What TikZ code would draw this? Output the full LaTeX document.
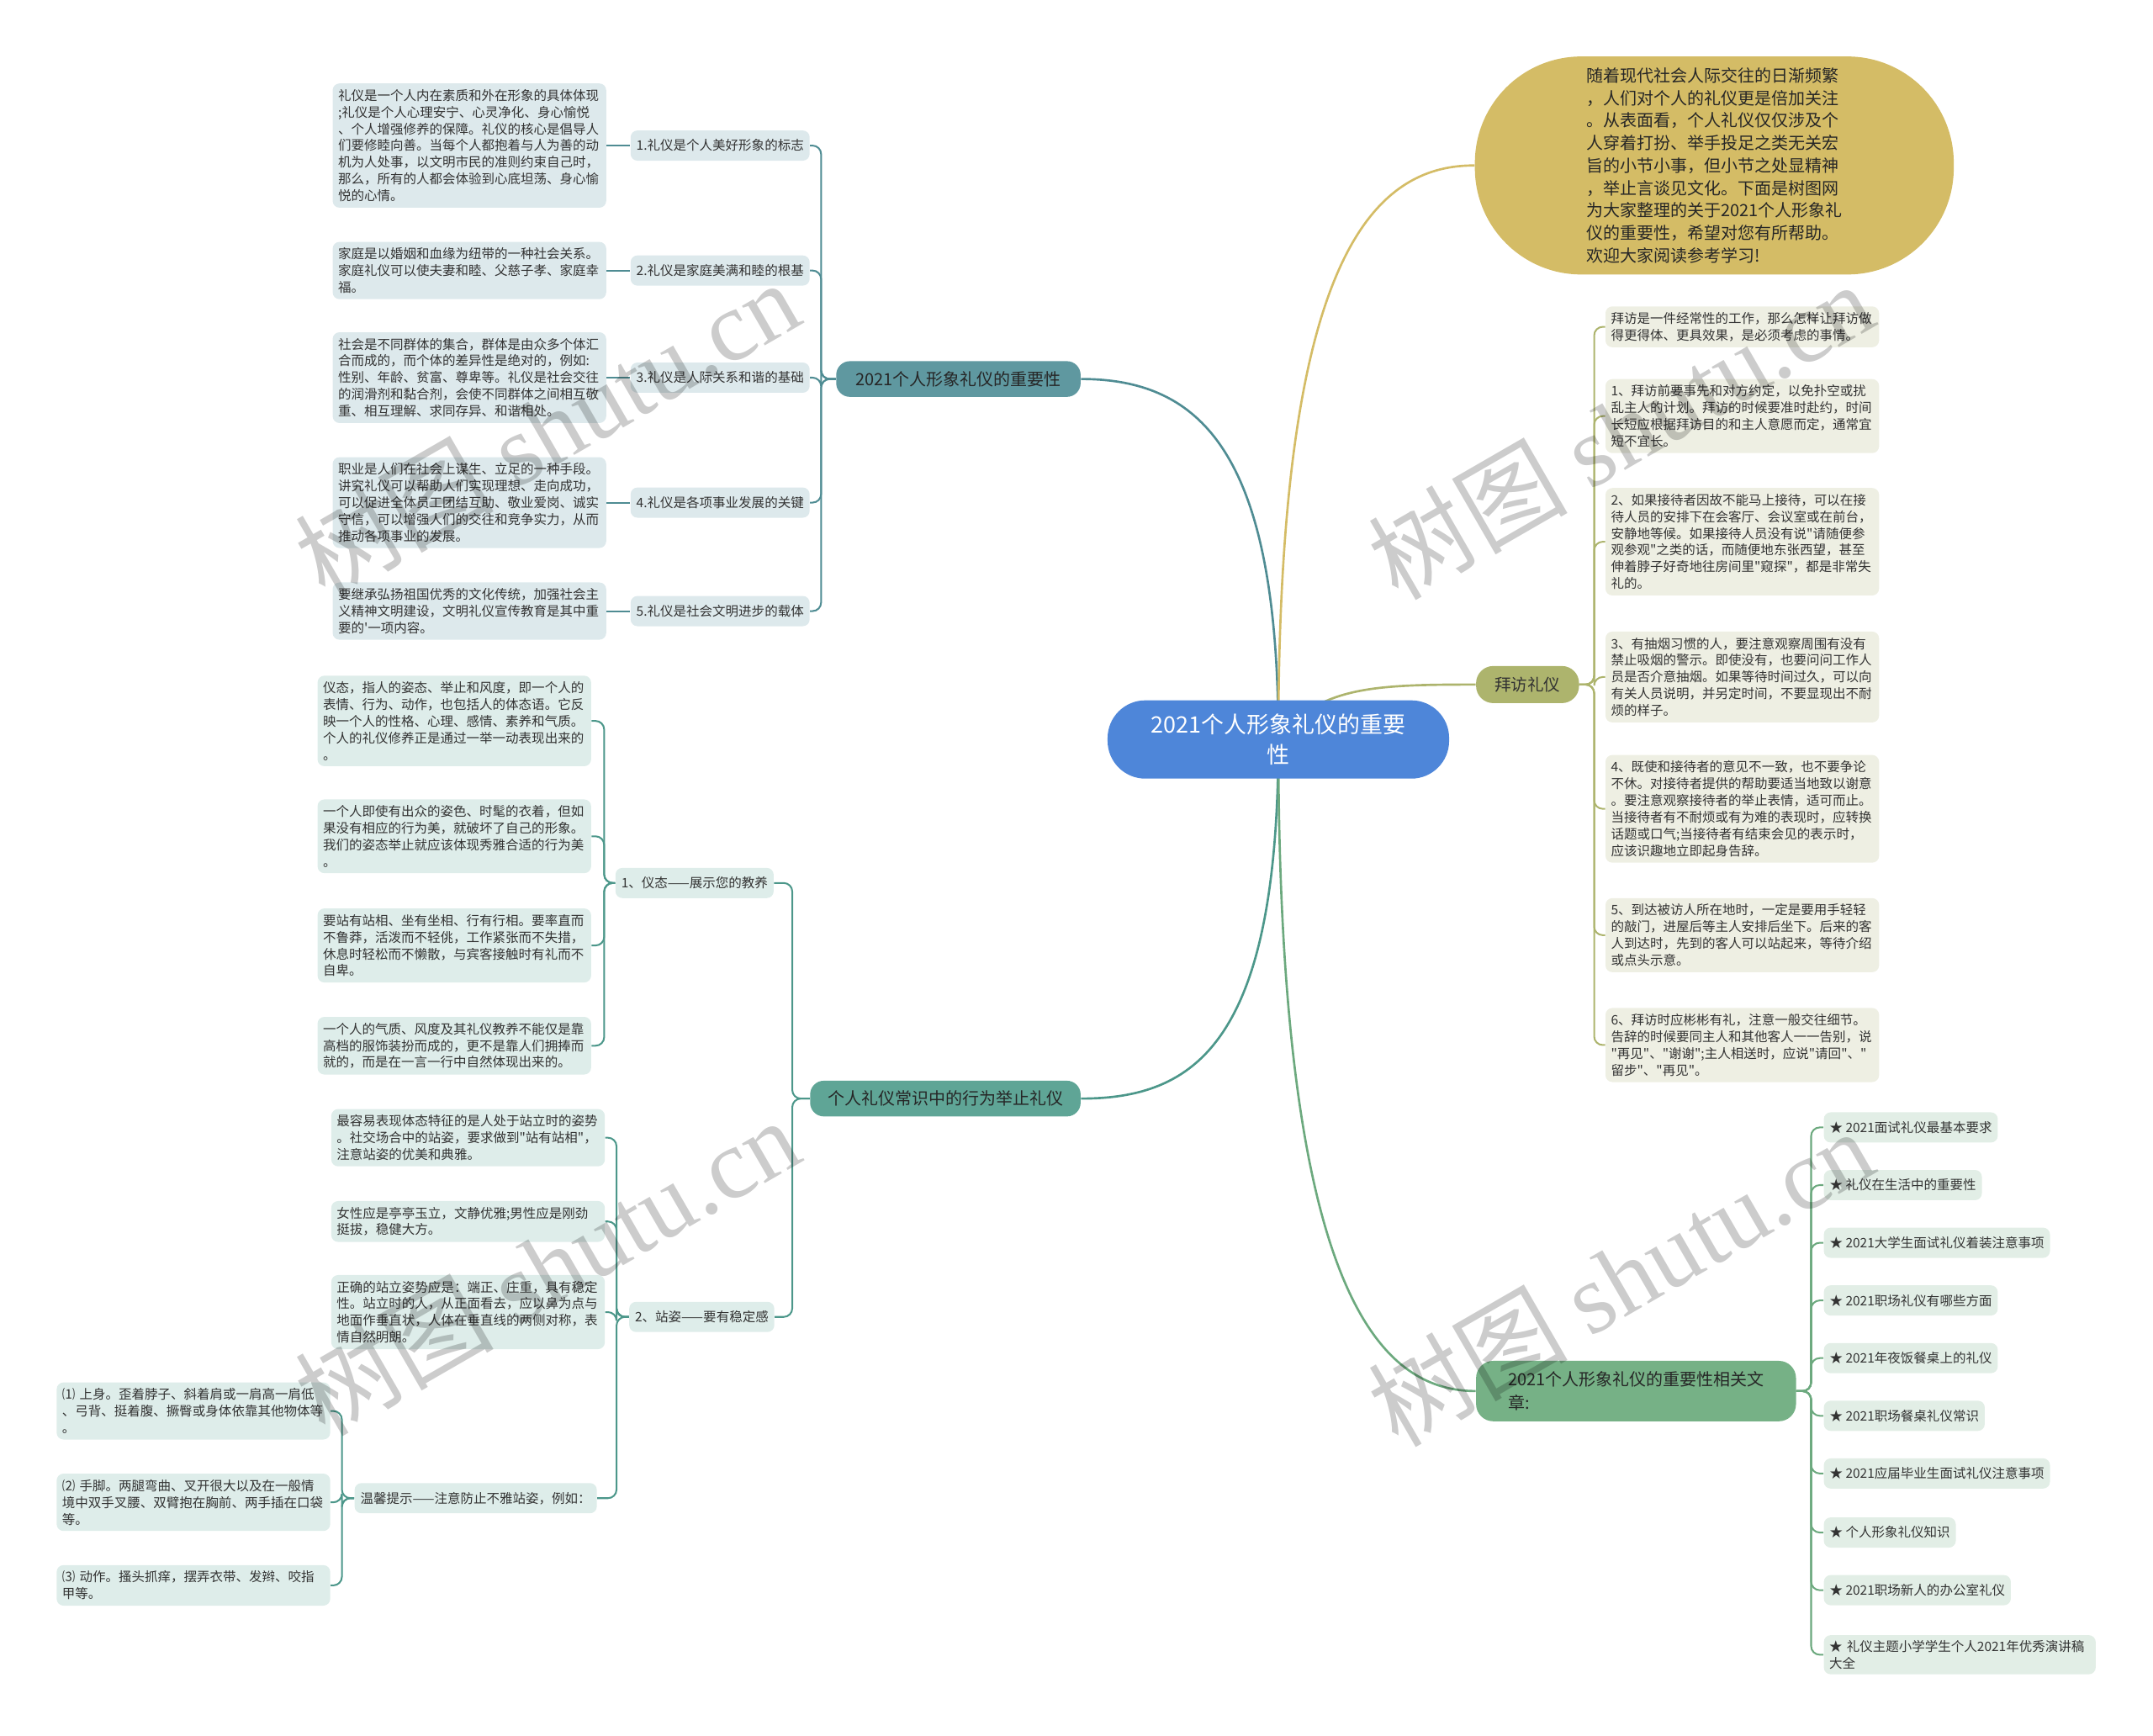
\documentclass[tikz,border=0pt]{standalone}
\usepackage{fontspec}
\newfontfamily\cjk{Noto Sans CJK SC}
\newfontfamily\wmserif{Liberation Serif}
\pgfdeclarelayer{lines}
\pgfsetlayers{lines,main}
\definecolor{txt}{HTML}{333333}
\definecolor{cblue}{HTML}{4E86D9}
\definecolor{cgold}{HTML}{D4BC66}
\definecolor{colive}{HTML}{ADB46D}
\definecolor{cteal}{HTML}{5F98A0}
\definecolor{lteal}{HTML}{4F8C93}
\definecolor{cgt}{HTML}{5FA596}
\definecolor{lgt}{HTML}{4C978A}
\definecolor{cgreen}{HTML}{76B186}
\definecolor{lgreen}{HTML}{6CA97E}
\definecolor{fblue}{HTML}{DDE9EC}
\definecolor{fgt}{HTML}{DEEDEA}
\definecolor{fol}{HTML}{EEEFE3}
\definecolor{fgr}{HTML}{E2EEE6}
\tikzset{
  smallfont/.style={font=\cjk\fontsize{7.6pt}{9.76pt}\selectfont},
  lfbox/.style={smallfont, fill=#1, text=txt, rounded corners=4pt, text width=153pt,
    inner xsep=3.2pt, inner ysep=3.4pt, align=left, anchor=west},
  onebox/.style={smallfont, fill=#1, text=txt, rounded corners=4pt, inner xsep=3.4pt,
    inner ysep=2pt, minimum height=17.6pt, anchor=west},
  midfont/.style={font=\cjk\fontsize{9.8pt}{11.5pt}\selectfont},
  wmark/.style={rotate=30, text=black, text opacity=0.2, inner sep=0pt},
}
\begin{document}
\cjk
\begin{tikzpicture}[x=0.8pt,y=-0.8pt]
\useasboundingbox (0,0) rectangle (1568,1264);

% ---- main nodes
\node[fill=cblue, text=white, rounded corners=22pt, minimum width=199pt, minimum height=45.6pt,
  align=center, font=\cjk\fontsize{13.2pt}{17.6pt}\selectfont] (c) at (931,538.5) {2021个人形象礼仪的重要\\性};
\node[fill=cgold, text=black!85, rounded corners=62pt, minimum width=279pt, minimum height=127pt,
  align=left, font=\cjk\fontsize{9.8pt}{13.1pt}\selectfont] (ye) at (1248.5,120.5)
  {随着现代社会人际交往的日渐频繁\\，人们对个人的礼仪更是倍加关注\\。从表面看，个人礼仪仅仅涉及个\\人穿着打扮、举手投足之类无关宏\\旨的小节小事，但小节之处显精神\\，举止言谈见文化。下面是树图网\\为大家整理的关于2021个人形象礼\\仪的重要性，希望对您有所帮助。\\欢迎大家阅读参考学习!};
\node[fill=colive, text=txt, rounded corners=10pt, minimum width=60pt, minimum height=21.6pt,
  font=\cjk\fontsize{9.6pt}{11pt}\selectfont] (bv) at (1112.5,498.5) {拜访礼仪};
\node[fill=cteal, text=black!85, rounded corners=8pt, minimum width=142.4pt, minimum height=20.8pt,
  midfont] (n1) at (698,276) {2021个人形象礼仪的重要性};
\node[fill=cgt, text=black!85, rounded corners=8pt, minimum width=157.6pt, minimum height=20.8pt,
  midfont] (n2) at (688.5,800) {个人礼仪常识中的行为举止礼仪};
\node[fill=cgreen, text=black!85, rounded corners=10pt, minimum width=186.4pt, minimum height=35.2pt,
  align=left, font=\cjk\fontsize{9.8pt}{13.6pt}\selectfont] (rel) at (1191.5,1013)
  {2021个人形象礼仪的重要性相关文\\章:};

% ---- branch 1
\node[onebox=fblue] (p1) at (459,106) {1.礼仪是个人美好形象的标志};
\node[onebox=fblue] (p2) at (459,197) {2.礼仪是家庭美满和睦的根基};
\node[onebox=fblue] (p3) at (459,275) {3.礼仪是人际关系和谐的基础};
\node[onebox=fblue] (p4) at (459,366) {4.礼仪是各项事业发展的关键};
\node[onebox=fblue] (p5) at (459,445) {5.礼仪是社会文明进步的载体};

\node[lfbox=fblue] (l1) at (242,106) {礼仪是一个人内在素质和外在形象的具体体现\\;礼仪是个人心理安宁、心灵净化、身心愉悦\\、个人增强修养的保障。礼仪的核心是倡导人\\们要修睦向善。当每个人都抱着与人为善的动\\机为人处事，以文明市民的准则约束自己时，\\那么，所有的人都会体验到心底坦荡、身心愉\\悦的心情。};
\node[lfbox=fblue] (l2) at (242,197) {家庭是以婚姻和血缘为纽带的一种社会关系。\\家庭礼仪可以使夫妻和睦、父慈子孝、家庭幸\\福。};
\node[lfbox=fblue] (l3) at (242,275) {社会是不同群体的集合，群体是由众多个体汇\\合而成的，而个体的差异性是绝对的，例如:\\性别、年龄、贫富、尊卑等。礼仪是社会交往\\的润滑剂和黏合剂，会使不同群体之间相互敬\\重、相互理解、求同存异、和谐相处。};
\node[lfbox=fblue] (l4) at (242,366) {职业是人们在社会上谋生、立足的一种手段。\\讲究礼仪可以帮助人们实现理想、走向成功，\\可以促进全体员工团结互助、敬业爱岗、诚实\\守信，可以增强人们的交往和竞争实力，从而\\推动各项事业的发展。};
\node[lfbox=fblue] (l5) at (242,445) {要继承弘扬祖国优秀的文化传统，加强社会主\\义精神文明建设，文明礼仪宣传教育是其中重\\要的'一项内容。};

% ---- branch 2
\node[onebox=fgt] (ya) at (448,643) {1、仪态——展示您的教养};
\node[onebox=fgt] (yb) at (458,959) {2、站姿——要有稳定感};
\node[lfbox=fgt] (la) at (231,525) {仪态，指人的姿态、举止和风度，即一个人的\\表情、行为、动作，也包括人的体态语。它反\\映一个人的性格、心理、感情、素养和气质。\\个人的礼仪修养正是通过一举一动表现出来的\\。};
\node[lfbox=fgt] (lb) at (231,609) {一个人即使有出众的姿色、时髦的衣着，但如\\果没有相应的行为美，就破坏了自己的形象。\\我们的姿态举止就应该体现秀雅合适的行为美\\。};
\node[lfbox=fgt] (lc) at (231,688.5) {要站有站相、坐有坐相、行有行相。要率直而\\不鲁莽，活泼而不轻佻，工作紧张而不失措，\\休息时轻松而不懒散，与宾客接触时有礼而不\\自卑。};
\node[lfbox=fgt] (ld) at (231,761.5) {一个人的气质、风度及其礼仪教养不能仅是靠\\高档的服饰装扮而成的，更不是靠人们拥捧而\\就的，而是在一言一行中自然体现出来的。};
\node[lfbox=fgt] (le) at (241,828.5) {最容易表现体态特征的是人处于站立时的姿势\\。社交场合中的站姿，要求做到"站有站相"，\\注意站姿的优美和典雅。};
\node[lfbox=fgt] (lf) at (241,889.5) {女性应是亭亭玉立，文静优雅;男性应是刚劲\\挺拔，稳健大方。};
\node[lfbox=fgt] (lg) at (241,955.5) {正确的站立姿势应是：端正、庄重，具有稳定\\性。站立时的人，从正面看去，应以鼻为点与\\地面作垂直状，人体在垂直线的两侧对称，表\\情自然明朗。};
\node[onebox=fgt] (wx) at (258,1091) {温馨提示——注意防止不雅站姿，例如：};
\node[lfbox=fgt] (lh) at (41,1027.5) {⑴ 上身。歪着脖子、斜着肩或一肩高一肩低\\、弓背、挺着腹、撅臀或身体依靠其他物体等\\。};
\node[lfbox=fgt] (li) at (41,1094) {⑵ 手脚。两腿弯曲、叉开很大以及在一般情\\境中双手叉腰、双臂抱在胸前、两手插在口袋\\等。};
\node[lfbox=fgt] (lj) at (41,1154.5) {⑶ 动作。搔头抓痒，摆弄衣带、发辫、咬指\\甲等。};

% ---- visit branch
\node[lfbox=fol] (b0) at (1169,238) {拜访是一件经常性的工作，那么怎样让拜访做\\得更得体、更具效果，是必须考虑的事情。};
\node[lfbox=fol] (b1) at (1169,303) {1、拜访前要事先和对方约定，以免扑空或扰\\乱主人的计划。拜访的时候要准时赴约，时间\\长短应根据拜访目的和主人意愿而定，通常宜\\短不宜长。};
\node[lfbox=fol] (b2) at (1169,394.5) {2、如果接待者因故不能马上接待，可以在接\\待人员的安排下在会客厅、会议室或在前台，\\安静地等候。如果接待人员没有说"请随便参\\观参观"之类的话，而随便地东张西望，甚至\\伸着脖子好奇地往房间里"窥探"，都是非常失\\礼的。};
\node[lfbox=fol] (b3) at (1169,493) {3、有抽烟习惯的人，要注意观察周围有没有\\禁止吸烟的警示。即使没有，也要问问工作人\\员是否介意抽烟。如果等待时间过久，可以向\\有关人员说明，并另定时间，不要显现出不耐\\烦的样子。};
\node[lfbox=fol] (b4) at (1169,589) {4、既使和接待者的意见不一致，也不要争论\\不休。对接待者提供的帮助要适当地致以谢意\\。要注意观察接待者的举止表情，适可而止。\\当接待者有不耐烦或有为难的表现时，应转换\\话题或口气;当接待者有结束会见的表示时，\\应该识趣地立即起身告辞。};
\node[lfbox=fol] (b5) at (1169,681) {5、到达被访人所在地时，一定是要用手轻轻\\的敲门，进屋后等主人安排后坐下。后来的客\\人到达时，先到的客人可以站起来，等待介绍\\或点头示意。};
\node[lfbox=fol] (b6) at (1169,761) {6、拜访时应彬彬有礼，注意一般交往细节。\\告辞的时候要同主人和其他客人一一告别，说\\"再见"、"谢谢";主人相送时，应说"请回"、"\\留步"、"再见"。};

% ---- related articles
\node[onebox=fgr] (r1) at (1328,821) {★ 2021面试礼仪最基本要求};
\node[onebox=fgr] (r2) at (1328,863) {★ 礼仪在生活中的重要性};
\node[onebox=fgr] (r3) at (1328,905) {★ 2021大学生面试礼仪着装注意事项};
\node[onebox=fgr] (r4) at (1328,947) {★ 2021职场礼仪有哪些方面};
\node[onebox=fgr] (r5) at (1328,989) {★ 2021年夜饭餐桌上的礼仪};
\node[onebox=fgr] (r6) at (1328,1031) {★ 2021职场餐桌礼仪常识};
\node[onebox=fgr] (r7) at (1328,1073) {★ 2021应届毕业生面试礼仪注意事项};
\node[onebox=fgr] (r8) at (1328,1116) {★ 个人形象礼仪知识};
\node[onebox=fgr] (r9) at (1328,1158) {★ 2021职场新人的办公室礼仪};
\node[lfbox=fgr, text width=152pt, inner ysep=3pt] (r10) at (1328,1205) {★ 礼仪主题小学学生个人2021年优秀演讲稿\\大全};

% ---- spines
\coordinate (s1) at (598,0);
\coordinate (s2) at (577,0);
\coordinate (sA) at (440,0);
\coordinate (sB) at (449,0);
\coordinate (sC) at (249,0);
\coordinate (sD) at (1161,0);
\coordinate (sE) at (1319,0);

\begin{pgfonlayer}{lines}
\draw[lteal, line width=1.3pt] (c.center) .. controls (931,330) and (875,276) .. (n1.east);
\draw[lgt, line width=1.3pt] (c.center) .. controls (931,760) and (870,800) .. (n2.east);
\draw[cgold, line width=1.3pt] (c.center) .. controls (931,210) and (990,120) .. (ye.west);
\draw[colive, line width=1.3pt] (c.center) .. controls (960,500) and (1000,498.5) .. (bv.west);
\draw[lgreen, line width=1.3pt] (c.center) .. controls (931,930) and (1000,1013) .. (rel.west);

\foreach \p in {p1,p2,p3,p4,p5}
  \draw[lteal, line width=1pt, rounded corners=5pt] (n1.west) -- (n1.west -| s1) |- (\p.east);
\draw[lteal, line width=1pt] (l1.east) -- (p1.west);
\draw[lteal, line width=1pt] (l2.east) -- (p2.west);
\draw[lteal, line width=1pt] (l3.east) -- (p3.west);
\draw[lteal, line width=1pt] (l4.east) -- (p4.west);
\draw[lteal, line width=1pt] (l5.east) -- (p5.west);

\foreach \p in {ya,yb}
  \draw[lgt, line width=1pt, rounded corners=5pt] (n2.west) -- (n2.west -| s2) |- (\p.east);
\foreach \p in {la,lb,lc,ld}
  \draw[lgt, line width=1pt, rounded corners=5pt] (ya.west) -- (ya.west -| sA) |- (\p.east);
\foreach \p in {le,lf,lg,wx}
  \draw[lgt, line width=1pt, rounded corners=5pt] (yb.west) -- (yb.west -| sB) |- (\p.east);
\foreach \p in {lh,li,lj}
  \draw[lgt, line width=1pt, rounded corners=5pt] (wx.west) -- (wx.west -| sC) |- (\p.east);

\foreach \p in {b0,b1,b2,b3,b4,b5,b6}
  \draw[colive, line width=1pt, rounded corners=5pt] (bv.east) -- (bv.east -| sD) |- (\p.west);
\foreach \p in {r1,r2,r3,r4,r5,r6,r7,r8,r9,r10}
  \draw[lgreen, line width=1pt, rounded corners=5pt] (rel.east) -- (rel.east -| sE) |- (\p.west);
\end{pgfonlayer}

% ---- watermarks
\node[wmark] (w1) at (398,312) {\cjk\fontsize{58pt}{60pt}\selectfont 树图 {\wmserif shutu.cn}};
\node[wmark] (w2) at (1180,313) {\cjk\fontsize{58pt}{60pt}\selectfont 树图 {\wmserif shutu.cn}};
\node[wmark] (w3) at (398,922) {\cjk\fontsize{58pt}{60pt}\selectfont 树图 {\wmserif shutu.cn}};
\node[wmark] (w4) at (1180,930) {\cjk\fontsize{58pt}{60pt}\selectfont 树图 {\wmserif shutu.cn}};
\end{tikzpicture}
\end{document}
